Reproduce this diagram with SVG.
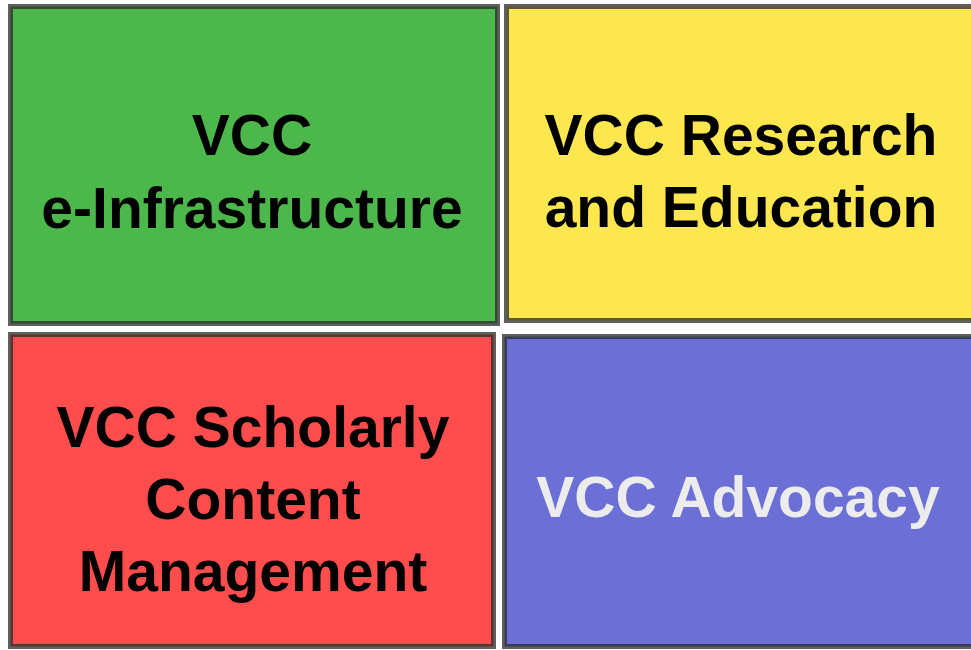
<svg xmlns="http://www.w3.org/2000/svg" width="971" height="650" viewBox="0 0 971 650">
<style>
.box{stroke:#2a2a2a;stroke-opacity:0.75;stroke-width:5}
.t{font-family:"Liberation Sans",Arial,sans-serif;font-weight:bold;font-size:57px;text-anchor:middle;fill:#000}
.w{fill:#ececec}
</style>
<rect width="971" height="650" fill="#ffffff"/>
<g id="e-infrastructure">
<rect class="box" x="10.5" y="6.5" width="487" height="317" fill="#4cb84c"/>
<text class="t" x="252" y="155">VCC</text>
<text class="t" x="252" y="228">e-Infrastructure</text>
</g>
<g id="research-education">
<rect class="box" x="506.5" y="6.5" width="470" height="314" fill="#fde74f"/>
<text class="t" x="741" y="155">VCC Research</text>
<text class="t" x="741" y="227">and Education</text>
</g>
<g id="scholarly-content">
<rect class="box" x="10.5" y="334.5" width="483" height="312" fill="#ff4c4c"/>
<text class="t" x="253" y="447">VCC Scholarly</text>
<text class="t" x="253" y="519">Content</text>
<text class="t" x="253" y="591">Management</text>
</g>
<g id="advocacy">
<rect class="box" x="504.5" y="336.5" width="472" height="310" fill="#6b6fd6"/>
<text class="t w" x="738" y="517">VCC Advocacy</text>
</g>
<g id="connectors"></g>
</svg>
